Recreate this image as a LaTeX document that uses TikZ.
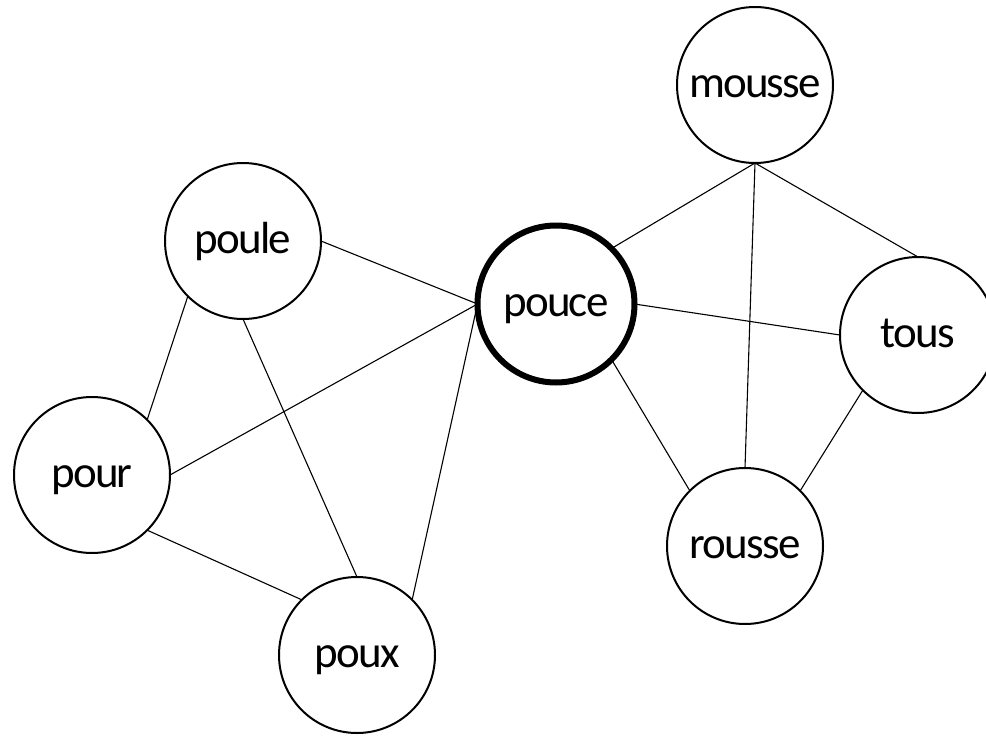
\documentclass[tikz,border=0pt]{standalone}
\usepackage{fontspec}
\setmainfont{Carlito}
\newfontfamily\wordfont[LetterSpace=-4]{Carlito}
\begin{document}
\begin{tikzpicture}[x=1pt,y=-1pt,
  word/.style={circle,draw=black,line width=2pt,minimum size=156pt,inner sep=0pt,outer sep=0pt,
    font=\wordfont\fontsize{45}{45}\selectfont,text height=25pt,text depth=0pt},
  focus/.style={word,line width=6pt,minimum size=157pt},
  link/.style={draw=black,line width=1.1pt}]
  \useasboundingbox (0,0) rectangle (986,736);
  \begin{scope}
  \clip (0,0) rectangle (986,736);
  % words
  \node[word]  (mousse) at (755,85)  {mousse};
  \node[word]  (poule)  at (243,241) {poule};
  \node[focus] (pouce)  at (556,304) {pouce};
  \node[word]  (tous)   at (918,335) {tous};
  \node[word]  (pour)   at (92,475)  {pour};
  \node[word]  (rousse) at (745,546) {rousse};
  \node[word]  (poux)   at (357,655) {poux};
  % links between words
  \draw[link] (poule.east) -- (pouce.west);
  \draw[link] (poule.225) -- (pour.45);
  \draw[link] (poule.south) -- (poux.north);
  \draw[link] (pour.east) -- (pouce.west);
  \draw[link] (pour.-45) -- (poux.135);
  \draw[link] (poux.45) -- (pouce.west);
  \draw[link] (pouce.45) -- (mousse.south);
  \draw[link] (pouce.east) -- (tous.west);
  \draw[link] (pouce.-45) -- (rousse.135);
  \draw[link] (mousse.south) -- (tous.north);
  \draw[link] (mousse.south) -- (rousse.north);
  \draw[link] (tous.225) -- (rousse.45);
  \end{scope}
\end{tikzpicture}
\end{document}
